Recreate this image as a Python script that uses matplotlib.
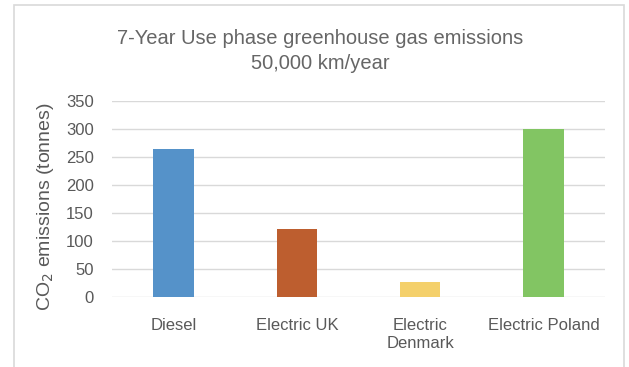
import matplotlib.pyplot as plt
from matplotlib.patches import Rectangle

# Data
categories = ['Diesel', 'Electric UK', 'Electric\nDenmark', 'Electric Poland']
emissions = [265, 122, 27, 300]
colors = ['#5592C9', '#BD5E2F', '#F4D06B', '#82C563']
yticks = [0, 50, 100, 150, 200, 250, 300, 350]

plt.rcParams['font.family'] = ['Liberation Sans', 'DejaVu Sans']
text_color = '#595959'

fig = plt.figure(figsize=(6.29, 3.67), dpi=100)
ax = fig.add_axes([112 / 629, 1 - 297 / 367, 493 / 629, 196 / 367])

ax.bar(range(len(categories)), emissions, width=0.33, color=colors, zorder=3)
ax.set_xlim(-0.5, len(categories) - 0.5)
ax.set_ylim(0, 350)
ax.set_yticks(yticks)
ax.set_xticks(range(len(categories)))
ax.set_xticklabels(categories, fontsize=12, color=text_color, linespacing=1.3)
ax.tick_params(axis='y', labelsize=12, labelcolor=text_color, length=0, pad=13)
ax.tick_params(axis='x', length=0, pad=15)
ax.grid(axis='y', color='#D9D9D9', lw=1, zorder=0)
for s in ax.spines.values():
    s.set_visible(False)

fig.text(46 / 629, 1 - 207 / 367, 'CO$_2$ emissions (tonnes)', rotation=90,
         ha='center', va='center', fontsize=14, color=text_color)
fig.text(320 / 629, 1 - 51 / 367, '7-Year Use phase greenhouse gas emissions\n50,000 km/year',
         ha='center', va='center', fontsize=14.5, color='#666666', linespacing=1.4)

# chart border
fig.patches.append(Rectangle((14 / 629, -0.1), 610 / 629, 1.1 - 5 / 367,
                             transform=fig.transFigure, fill=False,
                             edgecolor='#D9D9D9', lw=1.2))

fig.savefig('out.png', dpi=100)
